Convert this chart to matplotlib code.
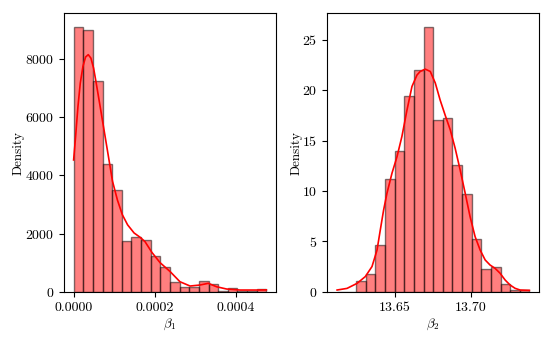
import numpy as np
import matplotlib
matplotlib.use("Agg")
import matplotlib.pyplot as plt

plt.rcParams['font.family'] = 'serif'
plt.rcParams['font.serif'] = ['cmr10']
plt.rcParams['mathtext.fontset'] = 'cm'
plt.rcParams['axes.formatter.use_mathtext'] = True
plt.rcParams['font.size'] = 10
plt.rcParams['axes.labelsize'] = 9.5

# beta_1 histogram (density), 20 bins
b1_start = 0.0
b1_width = 0.00002375
b1_heights = [9115, 9000, 7250, 4400, 3510, 1760, 1870, 1770, 1220, 840,
              323, 155, 160, 360, 275, 20, 145, 25, 25, 100]
# beta_1 kde
b1_kde_x = [0, 0.0000049, 0.0000107, 0.0000164, 0.000023, 0.0000295, 0.0000361,
            0.0000426, 0.0000492, 0.0000557, 0.0000639, 0.0000721, 0.0000803,
            0.0000885, 0.0000958, 0.000108, 0.00012, 0.000133, 0.000149, 0.000164,
            0.000176, 0.000193, 0.000213, 0.000238, 0.000262, 0.000287, 0.000311,
            0.000332, 0.000352, 0.000377, 0.00041, 0.000451, 0.000475]
b1_kde_y = [4530, 5340, 6370, 7170, 7750, 8070, 8150, 8030, 7690, 7170, 6490,
            5800, 5110, 4420, 3800, 3150, 2650, 2300, 2020, 1870, 1720, 1350,
            1000, 690, 344, 196, 230, 289, 172, 93, 58, 58, 62]

# beta_2 histogram (density), 20 bins
b2_start = 13.6122
b2_width = 0.00631
b2_heights = [0.0, 0.0, 1.1, 1.76, 4.64, 11.2, 14.0, 19.4, 22.0, 26.3,
              17.0, 17.2, 12.6, 9.7, 5.2, 2.3, 2.5, 0.8, 0.2, 0.17]
b2_kde_x = [13.6123, 13.6188, 13.6254, 13.6308, 13.6352, 13.6385, 13.6406,
            13.6428, 13.645, 13.6483, 13.6516, 13.6548, 13.6581, 13.6614,
            13.6647, 13.6668, 13.6701, 13.6734, 13.6767, 13.6799, 13.6832,
            13.6865, 13.6897, 13.693, 13.6963, 13.6995, 13.7028, 13.7061,
            13.7094, 13.7126, 13.7159, 13.7192, 13.7225, 13.7257, 13.729,
            13.7323, 13.7384]
b2_kde_y = [0.17, 0.33, 0.83, 1.5, 2.5, 4.14, 6.1, 8.1, 9.77, 11.76, 13.4,
            15.4, 18.0, 20.36, 21.5, 21.85, 22.08, 21.85, 20.7, 19.0, 17.5,
            16.06, 14.24, 12.08, 9.77, 7.45, 5.46, 4.14, 3.15, 2.65, 2.32,
            1.83, 1.16, 0.67, 0.34, 0.17, 0.14]

fig = plt.figure(figsize=(5.53, 3.42), dpi=100)
ax1 = fig.add_axes([0.1157, 0.147, 0.3834, 0.814])
ax2 = fig.add_axes([0.5919, 0.147, 0.3828, 0.814])


def draw(ax, start, width, heights, kx, ky, xlabel):
    left = start + width * np.arange(len(heights))
    ax.bar(left, heights, width=width, align='edge',
           facecolor=(1, 0, 0, 0.5), edgecolor=(0, 0, 0, 0.5), linewidth=1)
    ax.plot(kx, ky, color='red', linewidth=1.2)
    ax.set_xlabel(xlabel, labelpad=2)
    ax.set_ylabel('Density', labelpad=0)


draw(ax1, b1_start, b1_width, b1_heights, b1_kde_x, b1_kde_y, r'$\beta_1$')
draw(ax2, b2_start, b2_width, b2_heights, b2_kde_x, b2_kde_y, r'$\beta_2$')

ax1.set_xticks([0.0, 0.0002, 0.0004])
ax1.set_xticklabels(['0.0000', '0.0002', '0.0004'])
ax1.set_yticks([0, 2000, 4000, 6000, 8000])
ax2.set_xticks([13.65, 13.70])
ax2.set_xticklabels(['13.65', '13.70'])
ax2.set_yticks([0, 5, 10, 15, 20, 25])

plt.savefig('out.png', dpi=100)
